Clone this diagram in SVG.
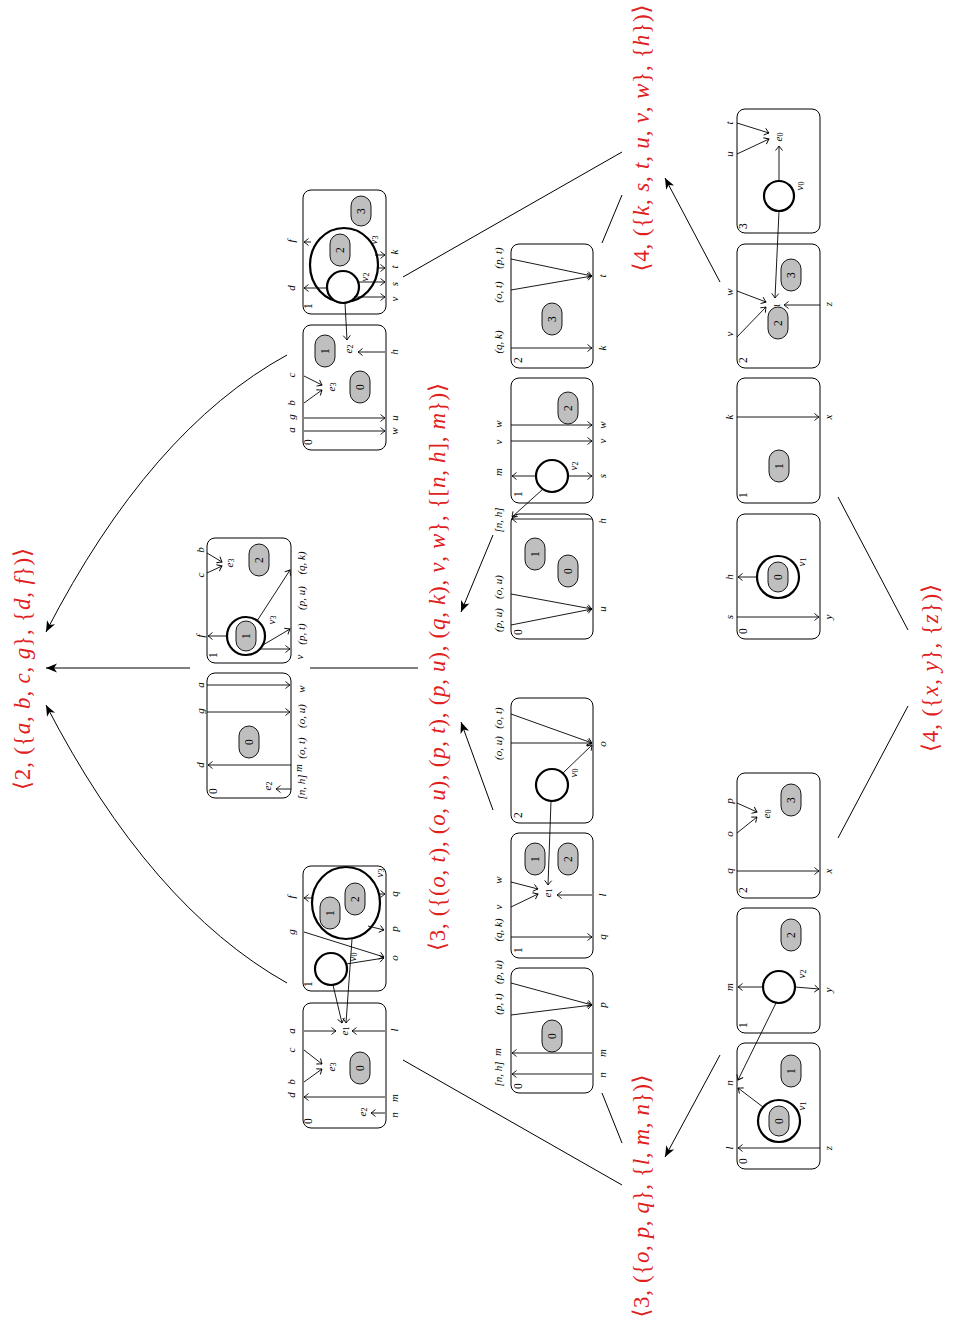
<svg xmlns="http://www.w3.org/2000/svg" width="953" height="1326" viewBox="0 0 953 1326">
<style>
.p{fill:#fff;stroke:#000;stroke-width:1}
.pl{fill:#bfbfbf;stroke:#000;stroke-width:0.9}
.c{fill:#fff;stroke:#000;stroke-width:2.2}
.c2{fill:none;stroke:#000;stroke-width:2.2}
.a{stroke:#000;stroke-width:0.9;fill:none;marker-end:url(#oa)}
.m{stroke:#000;stroke-width:1;fill:none}
.ma{stroke:#000;stroke-width:1;fill:none;marker-end:url(#fa)}
text{font-family:"Liberation Serif","DejaVu Serif",serif;text-anchor:middle;dominant-baseline:central}
.i{font-style:italic;font-size:11px}
.n{font-size:11.5px}
.sub{font-style:normal;font-size:8px}
.r{font-size:23px;fill:#e0201c}
.ri{font-style:italic}
</style>
<defs>
<marker id="oa" viewBox="-6 -5 7 10" refX="0" refY="0" markerWidth="7" markerHeight="10" markerUnits="userSpaceOnUse" orient="auto"><path d="M-4.5,-3.5 Q-1.5,-1 0,0 Q-1.5,1 -4.5,3.5" fill="none" stroke="#000" stroke-width="0.9"/></marker>
<marker id="fa" viewBox="-12 -6 13 12" refX="0" refY="0" markerWidth="13" markerHeight="12" markerUnits="userSpaceOnUse" orient="auto"><path d="M-11,-4.5 L0,0 L-11,4.5 L-8,0 z" fill="#000"/></marker>
</defs>

<!-- red labels -->
<g id="labels">
<text class="r" textLength="242" lengthAdjust="spacing" transform="translate(22 669) rotate(-90)">⟨2, ({<tspan class="ri">a</tspan>, <tspan class="ri">b</tspan>, <tspan class="ri">c</tspan>, <tspan class="ri">g</tspan>}, {<tspan class="ri">d</tspan>, <tspan class="ri">f</tspan>})⟩</text>
<text class="r" textLength="568" lengthAdjust="spacing" transform="translate(437 667) rotate(-90)">⟨3, ({(<tspan class="ri">o</tspan>, <tspan class="ri">t</tspan>), (<tspan class="ri">o</tspan>, <tspan class="ri">u</tspan>), (<tspan class="ri">p</tspan>, <tspan class="ri">t</tspan>), (<tspan class="ri">p</tspan>, <tspan class="ri">u</tspan>), (<tspan class="ri">q</tspan>, <tspan class="ri">k</tspan>), <tspan class="ri">v</tspan>, <tspan class="ri">w</tspan>}, {[<tspan class="ri">n</tspan>, <tspan class="ri">h</tspan>], <tspan class="ri">m</tspan>})⟩</text>
<text class="r" textLength="243" lengthAdjust="spacing" transform="translate(641 1196) rotate(-90)">⟨3, ({<tspan class="ri">o</tspan>, <tspan class="ri">p</tspan>, <tspan class="ri">q</tspan>}, {<tspan class="ri">l</tspan>, <tspan class="ri">m</tspan>, <tspan class="ri">n</tspan>})⟩</text>
<text class="r" textLength="267" lengthAdjust="spacing" transform="translate(641 138) rotate(-90)">⟨4, ({<tspan class="ri">k</tspan>, <tspan class="ri">s</tspan>, <tspan class="ri">t</tspan>, <tspan class="ri">u</tspan>, <tspan class="ri">v</tspan>, <tspan class="ri">w</tspan>}, {<tspan class="ri">h</tspan>})⟩</text>
<text class="r" textLength="168" lengthAdjust="spacing" transform="translate(930 668) rotate(-90)">⟨4, ({<tspan class="ri">x</tspan>, <tspan class="ri">y</tspan>}, {<tspan class="ri">z</tspan>})⟩</text>
</g>

<!-- A3 -->
<g id="A3">
<rect class="p" x="737" y="109" width="83" height="124" rx="8"/>
<text class="n" transform="translate(743 226) rotate(-90)">3</text>
<line class="a" x1="737" y1="123" x2="769" y2="133"/>
<line class="a" x1="737" y1="154" x2="769" y2="139"/>
<text class="i" transform="translate(729 123) rotate(-90)">t</text>
<text class="i" transform="translate(729 154) rotate(-90)">u</text>
<text class="i" transform="translate(778 137) rotate(-90)">e<tspan class="sub" dy="2">0</tspan></text>
<circle class="c" cx="779" cy="196" r="15"/>
<line class="a" x1="779" y1="181" x2="779" y2="146"/>
<text class="i" transform="translate(799 186) rotate(-90)">v<tspan class="sub" dy="2">0</tspan></text>
</g>

<!-- A2 -->
<g id="A2">
<rect class="p" x="737" y="244" width="83" height="124" rx="8"/>
<text class="n" transform="translate(743 360) rotate(-90)">2</text>
<line class="a" x1="737" y1="291" x2="766" y2="302"/>
<line class="a" x1="737" y1="337" x2="766" y2="307"/>
<text class="i" transform="translate(729 292) rotate(-90)">w</text>
<text class="i" transform="translate(729 334) rotate(-90)">v</text>
<text class="i" transform="translate(775 308) rotate(-90)">e<tspan class="sub" dy="2">1</tspan></text>
<rect class="pl" x="768" y="307" width="20" height="32" rx="10"/>
<text class="n" transform="translate(778 323) rotate(-90)">2</text>
<rect class="pl" x="781" y="259" width="20" height="32" rx="10"/>
<text class="n" transform="translate(791 275) rotate(-90)">3</text>
<line class="a" x1="820" y1="305" x2="784" y2="305"/>
<text class="i" transform="translate(828 304) rotate(-90)">z</text>
</g>

<!-- A1 -->
<g id="A1">
<rect class="p" x="737" y="378" width="83" height="125" rx="8"/>
<text class="n" transform="translate(743 495) rotate(-90)">1</text>
<line class="a" x1="737" y1="417" x2="819" y2="417"/>
<text class="i" transform="translate(729 417) rotate(-90)">k</text>
<text class="i" transform="translate(828 417) rotate(-90)">x</text>
<rect class="pl" x="769" y="450" width="20" height="32" rx="10"/>
<text class="n" transform="translate(779 466) rotate(-90)">1</text>
</g>

<!-- A0 -->
<g id="A0">
<rect class="p" x="737" y="514" width="83" height="125" rx="8"/>
<text class="n" transform="translate(743 631) rotate(-90)">0</text>
<circle class="c" cx="778" cy="577" r="21"/>
<rect class="pl" x="768" y="562" width="20" height="30" rx="10"/>
<text class="n" transform="translate(778 577) rotate(-90)">0</text>
<line class="a" x1="757" y1="577" x2="738" y2="577"/>
<text class="i" transform="translate(729 577) rotate(-90)">h</text>
<text class="i" transform="translate(801 562) rotate(-90)">v<tspan class="sub" dy="2">1</tspan></text>
<line class="a" x1="737" y1="617" x2="819" y2="617"/>
<text class="i" transform="translate(729 617) rotate(-90)">s</text>
<text class="i" transform="translate(828 617) rotate(-90)">y</text>
</g>

<!-- B2 -->
<g id="B2">
<rect class="p" x="737" y="773" width="83" height="125" rx="8"/>
<text class="n" transform="translate(743 890) rotate(-90)">2</text>
<line class="a" x1="737" y1="803" x2="757" y2="812"/>
<line class="a" x1="737" y1="833" x2="757" y2="817"/>
<text class="i" transform="translate(729 801) rotate(-90)">p</text>
<text class="i" transform="translate(729 834) rotate(-90)">o</text>
<text class="i" transform="translate(729 871) rotate(-90)">q</text>
<text class="i" transform="translate(766 814) rotate(-90)">e<tspan class="sub" dy="2">0</tspan></text>
<rect class="pl" x="781" y="784" width="20" height="32" rx="10"/>
<text class="n" transform="translate(791 800) rotate(-90)">3</text>
<line class="a" x1="737" y1="871" x2="819" y2="871"/>
<text class="i" transform="translate(828 871) rotate(-90)">x</text>
</g>

<!-- B1 -->
<g id="B1">
<rect class="p" x="737" y="908" width="83" height="125" rx="8"/>
<text class="n" transform="translate(743 1025) rotate(-90)">1</text>
<rect class="pl" x="781" y="919" width="20" height="32" rx="10"/>
<text class="n" transform="translate(791 935) rotate(-90)">2</text>
<circle class="c" cx="779" cy="987" r="16"/>
<text class="i" transform="translate(801 974) rotate(-90)">v<tspan class="sub" dy="2">2</tspan></text>
<line class="a" x1="763" y1="987" x2="738" y2="987"/>
<text class="i" transform="translate(729 987) rotate(-90)">m</text>
<line class="a" x1="795" y1="987" x2="819" y2="989"/>
<text class="i" transform="translate(828 990) rotate(-90)">y</text>
</g>

<!-- B0 -->
<g id="B0">
<rect class="p" x="737" y="1043" width="83" height="126" rx="8"/>
<text class="n" transform="translate(743 1161) rotate(-90)">0</text>
<circle class="c" cx="779" cy="1121" r="21"/>
<rect class="pl" x="769" y="1106" width="20" height="30" rx="10"/>
<text class="n" transform="translate(779 1121) rotate(-90)">0</text>
<text class="i" transform="translate(801 1106) rotate(-90)">v<tspan class="sub" dy="2">1</tspan></text>
<line class="a" x1="763" y1="1107" x2="738" y2="1088"/>
<text class="i" transform="translate(729 1083) rotate(-90)">n</text>
<rect class="pl" x="781" y="1055" width="20" height="32" rx="10"/>
<text class="n" transform="translate(791 1071) rotate(-90)">1</text>
<line class="a" x1="820" y1="1148" x2="738" y2="1148"/>
<text class="i" transform="translate(729 1148) rotate(-90)">l</text>
<text class="i" transform="translate(828 1148) rotate(-90)">z</text>
</g>

<!-- C2 -->
<g id="C2">
<rect class="p" x="511" y="244" width="82" height="124" rx="8"/>
<text class="n" transform="translate(518 360) rotate(-90)">2</text>
<line class="a" x1="511" y1="348" x2="592" y2="348"/>
<text class="i" transform="translate(498 342) rotate(-90)">(q, k)</text>
<text class="i" transform="translate(602 348) rotate(-90)">k</text>
<line class="a" x1="511" y1="290" x2="592" y2="276"/>
<line class="a" x1="511" y1="259" x2="592" y2="276"/>
<text class="i" transform="translate(498 292) rotate(-90)">(o, t)</text>
<text class="i" transform="translate(498 258) rotate(-90)">(p, t)</text>
<text class="i" transform="translate(602 276) rotate(-90)">t</text>
<rect class="pl" x="542" y="303" width="20" height="32" rx="10"/>
<text class="n" transform="translate(552 319) rotate(-90)">3</text>
</g>

<!-- C1 -->
<g id="C1">
<rect class="p" x="511" y="378" width="82" height="125" rx="8"/>
<text class="n" transform="translate(518 494) rotate(-90)">1</text>
<circle class="c" cx="552" cy="476" r="16"/>
<text class="i" transform="translate(573 466) rotate(-90)">v<tspan class="sub" dy="2">2</tspan></text>
<line class="a" x1="536" y1="476" x2="512" y2="476"/>
<line class="a" x1="568" y1="476" x2="592" y2="476"/>
<text class="i" transform="translate(498 472) rotate(-90)">m</text>
<text class="i" transform="translate(602 476) rotate(-90)">s</text>
<line class="a" x1="511" y1="441" x2="592" y2="441"/>
<line class="a" x1="511" y1="425" x2="592" y2="425"/>
<text class="i" transform="translate(498 442) rotate(-90)">v</text>
<text class="i" transform="translate(498 424) rotate(-90)">w</text>
<text class="i" transform="translate(602 441) rotate(-90)">v</text>
<text class="i" transform="translate(602 425) rotate(-90)">w</text>
<rect class="pl" x="558" y="392" width="20" height="32" rx="10"/>
<text class="n" transform="translate(568 408) rotate(-90)">2</text>
</g>

<!-- C0 -->
<g id="C0">
<rect class="p" x="511" y="514" width="82" height="125" rx="8"/>
<text class="n" transform="translate(518 632) rotate(-90)">0</text>
<line class="a" x1="592" y1="519" x2="512" y2="519"/>
<text class="i" transform="translate(498 520) rotate(-90)">[n, h]</text>
<text class="i" transform="translate(602 521) rotate(-90)">h</text>
<line class="a" x1="511" y1="625" x2="592" y2="609"/>
<line class="a" x1="511" y1="594" x2="592" y2="609"/>
<text class="i" transform="translate(498 620) rotate(-90)">(p, u)</text>
<text class="i" transform="translate(498 587) rotate(-90)">(o, u)</text>
<text class="i" transform="translate(602 609) rotate(-90)">u</text>
<rect class="pl" x="525" y="538" width="20" height="32" rx="10"/>
<text class="n" transform="translate(535 554) rotate(-90)">1</text>
<rect class="pl" x="558" y="555" width="20" height="32" rx="10"/>
<text class="n" transform="translate(568 571) rotate(-90)">0</text>
</g>

<!-- D2 -->
<g id="D2">
<rect class="p" x="511" y="698" width="82" height="125" rx="8"/>
<text class="n" transform="translate(518 815) rotate(-90)">2</text>
<line class="a" x1="511" y1="714" x2="592" y2="743"/>
<line class="a" x1="511" y1="743" x2="592" y2="743"/>
<text class="i" transform="translate(498 718) rotate(-90)">(o, t)</text>
<text class="i" transform="translate(498 748) rotate(-90)">(o, u)</text>
<circle class="c" cx="552" cy="785" r="16"/>
<text class="i" transform="translate(573 773) rotate(-90)">v<tspan class="sub" dy="2">0</tspan></text>
<line class="a" x1="563" y1="773" x2="592" y2="745"/>
<text class="i" transform="translate(602 744) rotate(-90)">o</text>
</g>

<!-- D1 -->
<g id="D1">
<rect class="p" x="511" y="833" width="82" height="125" rx="8"/>
<text class="n" transform="translate(518 950) rotate(-90)">1</text>
<line class="a" x1="511" y1="937" x2="592" y2="937"/>
<text class="i" transform="translate(498 930) rotate(-90)">(q, k)</text>
<text class="i" transform="translate(602 937) rotate(-90)">q</text>
<line class="a" x1="511" y1="907" x2="538" y2="894"/>
<line class="a" x1="511" y1="882" x2="538" y2="889"/>
<text class="i" transform="translate(498 907) rotate(-90)">v</text>
<text class="i" transform="translate(498 880) rotate(-90)">w</text>
<text class="i" transform="translate(547 893) rotate(-90)">e<tspan class="sub" dy="2">1</tspan></text>
<line class="a" x1="592" y1="895" x2="557" y2="895"/>
<text class="i" transform="translate(602 895) rotate(-90)">l</text>
<rect class="pl" x="525" y="843" width="20" height="32" rx="10"/>
<text class="n" transform="translate(535 859) rotate(-90)">1</text>
<rect class="pl" x="558" y="843" width="20" height="32" rx="10"/>
<text class="n" transform="translate(568 859) rotate(-90)">2</text>
</g>

<!-- D0 -->
<g id="D0">
<rect class="p" x="511" y="968" width="82" height="125" rx="8"/>
<text class="n" transform="translate(518 1086) rotate(-90)">0</text>
<line class="a" x1="511" y1="983" x2="592" y2="1005"/>
<line class="a" x1="511" y1="1015" x2="592" y2="1005"/>
<text class="i" transform="translate(498 972) rotate(-90)">(p, u)</text>
<text class="i" transform="translate(498 1004) rotate(-90)">(p, t)</text>
<text class="i" transform="translate(602 1005) rotate(-90)">p</text>
<line class="a" x1="592" y1="1053" x2="512" y2="1053"/>
<line class="a" x1="592" y1="1074" x2="512" y2="1074"/>
<text class="i" transform="translate(497 1052) rotate(-90)">m</text>
<text class="i" transform="translate(498 1074) rotate(-90)">[n, h]</text>
<text class="i" transform="translate(602 1053) rotate(-90)">m</text>
<text class="i" transform="translate(602 1075) rotate(-90)">n</text>
<rect class="pl" x="542" y="1020" width="20" height="32" rx="10"/>
<text class="n" transform="translate(552 1036) rotate(-90)">0</text>
</g>

<!-- E1 -->
<g id="E1">
<rect class="p" x="207" y="538" width="84" height="125" rx="8"/>
<text class="n" transform="translate(213 655) rotate(-90)">1</text>
<line class="a" x1="207" y1="553" x2="222" y2="562"/>
<line class="a" x1="207" y1="573" x2="222" y2="566"/>
<text class="i" transform="translate(200 550) rotate(-90)">b</text>
<text class="i" transform="translate(200 575) rotate(-90)">c</text>
<text class="i" transform="translate(229 563) rotate(-90)">e<tspan class="sub" dy="2">3</tspan></text>
<rect class="pl" x="249" y="544" width="20" height="32" rx="10"/>
<text class="n" transform="translate(259 560) rotate(-90)">2</text>
<circle class="c" cx="246" cy="636" r="19"/>
<rect class="pl" x="236" y="621" width="20" height="30" rx="10"/>
<text class="n" transform="translate(246 636) rotate(-90)">1</text>
<text class="i" transform="translate(271 620) rotate(-90)">v<tspan class="sub" dy="2">3</tspan></text>
<line class="a" x1="227" y1="636" x2="208" y2="636"/>
<text class="i" transform="translate(200 636) rotate(-90)">f</text>
<line class="a" x1="257" y1="621" x2="290" y2="570"/>
<line class="a" x1="263" y1="645" x2="290" y2="629"/>
<line class="a" x1="260" y1="649" x2="290" y2="649"/>
<text class="i" transform="translate(301 563) rotate(-90)">(q, k)</text>
<text class="i" transform="translate(301 598) rotate(-90)">(p, u)</text>
<text class="i" transform="translate(301 634) rotate(-90)">(p, t)</text>
<text class="i" transform="translate(299 657) rotate(-90)">v</text>
</g>

<!-- E0 -->
<g id="E0">
<rect class="p" x="207" y="673" width="84" height="125" rx="8"/>
<text class="n" transform="translate(213 791) rotate(-90)">0</text>
<line class="a" x1="207" y1="685" x2="290" y2="685"/>
<line class="a" x1="207" y1="712" x2="290" y2="712"/>
<line class="a" x1="291" y1="765" x2="208" y2="765"/>
<text class="i" transform="translate(200 685) rotate(-90)">a</text>
<text class="i" transform="translate(200 711) rotate(-90)">g</text>
<text class="i" transform="translate(200 765) rotate(-90)">d</text>
<rect class="pl" x="239" y="726" width="20" height="32" rx="10"/>
<text class="n" transform="translate(249 742) rotate(-90)">0</text>
<line class="a" x1="291" y1="789" x2="276" y2="789"/>
<text class="i" transform="translate(267 786) rotate(-90)">e<tspan class="sub" dy="2">2</tspan></text>
<text class="i" transform="translate(301 689) rotate(-90)">w</text>
<text class="i" transform="translate(301 716) rotate(-90)">(o, u)</text>
<text class="i" transform="translate(301 748) rotate(-90)">(o, t)</text>
<text class="i" transform="translate(298 768) rotate(-90)">m</text>
<text class="i" transform="translate(301 787) rotate(-90)">[n, h]</text>
</g>

<!-- F1 -->
<g id="F1">
<rect class="p" x="303" y="190" width="83" height="124" rx="8"/>
<text class="n" transform="translate(308 306) rotate(-90)">1</text>
<rect class="pl" x="351" y="196" width="20" height="30" rx="10"/>
<text class="n" transform="translate(361 211) rotate(-90)">3</text>
<ellipse class="c2" cx="344" cy="265" rx="34" ry="37"/>
<rect class="pl" x="330" y="234" width="20" height="32" rx="10"/>
<text class="n" transform="translate(340 250) rotate(-90)">2</text>
<circle class="c" cx="343" cy="287" r="16"/>
<text class="i" transform="translate(364 277) rotate(-90)">v<tspan class="sub" dy="2">2</tspan></text>
<text class="i" transform="translate(373 240) rotate(-90)">v<tspan class="sub" dy="2">3</tspan></text>
<line class="a" x1="327" y1="288" x2="304" y2="288"/>
<line class="a" x1="311" y1="242" x2="304" y2="242"/>
<text class="i" transform="translate(291 288) rotate(-90)">d</text>
<text class="i" transform="translate(291 241) rotate(-90)">f</text>
<line class="a" x1="375" y1="255" x2="385" y2="255"/>
<line class="a" x1="377" y1="268" x2="385" y2="268"/>
<line class="a" x1="357" y1="282" x2="385" y2="282"/>
<line class="a" x1="354" y1="297" x2="385" y2="297"/>
<text class="i" transform="translate(394 252) rotate(-90)">k</text>
<text class="i" transform="translate(394 267) rotate(-90)">t</text>
<text class="i" transform="translate(394 284) rotate(-90)">s</text>
<text class="i" transform="translate(394 299) rotate(-90)">v</text>
</g>

<!-- F0 -->
<g id="F0">
<rect class="p" x="303" y="325" width="83" height="125" rx="8"/>
<text class="n" transform="translate(308 442) rotate(-90)">0</text>
<rect class="pl" x="315" y="335" width="20" height="32" rx="10"/>
<text class="n" transform="translate(325 351) rotate(-90)">1</text>
<text class="i" transform="translate(348 349) rotate(-90)">e<tspan class="sub" dy="2">2</tspan></text>
<line class="a" x1="385" y1="352" x2="358" y2="352"/>
<text class="i" transform="translate(394 352) rotate(-90)">h</text>
<line class="a" x1="304" y1="376" x2="322" y2="385"/>
<line class="a" x1="304" y1="403" x2="322" y2="390"/>
<text class="i" transform="translate(331 387) rotate(-90)">e<tspan class="sub" dy="2">3</tspan></text>
<text class="i" transform="translate(291 375) rotate(-90)">c</text>
<text class="i" transform="translate(291 403) rotate(-90)">b</text>
<text class="i" transform="translate(291 417) rotate(-90)">g</text>
<text class="i" transform="translate(291 430) rotate(-90)">a</text>
<rect class="pl" x="350" y="371" width="20" height="32" rx="10"/>
<text class="n" transform="translate(360 387) rotate(-90)">0</text>
<line class="a" x1="304" y1="418" x2="385" y2="418"/>
<line class="a" x1="304" y1="431" x2="385" y2="431"/>
<text class="i" transform="translate(394 418) rotate(-90)">u</text>
<text class="i" transform="translate(394 431) rotate(-90)">w</text>
</g>

<!-- G1 -->
<g id="G1">
<rect class="p" x="303" y="866" width="83" height="125" rx="8"/>
<text class="n" transform="translate(308 984) rotate(-90)">1</text>
<ellipse class="c2" cx="346" cy="903" rx="34" ry="36"/>
<rect class="pl" x="320" y="897" width="20" height="32" rx="10"/>
<text class="n" transform="translate(330 913) rotate(-90)">1</text>
<rect class="pl" x="345" y="883" width="20" height="32" rx="10"/>
<text class="n" transform="translate(355 899) rotate(-90)">2</text>
<text class="i" transform="translate(379 873) rotate(-90)">v<tspan class="sub" dy="2">3</tspan></text>
<line class="a" x1="312" y1="898" x2="304" y2="898"/>
<text class="i" transform="translate(291 897) rotate(-90)">f</text>
<circle class="c" cx="331" cy="969" r="16"/>
<text class="i" transform="translate(352 957) rotate(-90)">v<tspan class="sub" dy="2">0</tspan></text>
<line class="a" x1="304" y1="932" x2="384" y2="957"/>
<text class="i" transform="translate(291 932) rotate(-90)">g</text>
<line class="a" x1="346" y1="964" x2="384" y2="958"/>
<line class="a" x1="368" y1="926" x2="384" y2="930"/>
<line class="a" x1="378" y1="894" x2="385" y2="894"/>
<text class="i" transform="translate(394 958) rotate(-90)">o</text>
<text class="i" transform="translate(394 929) rotate(-90)">p</text>
<text class="i" transform="translate(394 894) rotate(-90)">q</text>
</g>

<!-- G0 -->
<g id="G0">
<rect class="p" x="303" y="1003" width="83" height="125" rx="8"/>
<text class="n" transform="translate(308 1121) rotate(-90)">0</text>
<text class="i" transform="translate(344 1031) rotate(-90)">e<tspan class="sub" dy="2">1</tspan></text>
<line class="a" x1="304" y1="1031" x2="336" y2="1031"/>
<line class="a" x1="385" y1="1031" x2="352" y2="1031"/>
<text class="i" transform="translate(291 1031) rotate(-90)">a</text>
<text class="i" transform="translate(394 1030) rotate(-90)">l</text>
<line class="a" x1="304" y1="1050" x2="322" y2="1064"/>
<line class="a" x1="304" y1="1082" x2="322" y2="1069"/>
<text class="i" transform="translate(331 1067) rotate(-90)">e<tspan class="sub" dy="2">3</tspan></text>
<text class="i" transform="translate(291 1050) rotate(-90)">c</text>
<text class="i" transform="translate(291 1082) rotate(-90)">b</text>
<text class="i" transform="translate(291 1095) rotate(-90)">d</text>
<line class="a" x1="385" y1="1097" x2="304" y2="1097"/>
<text class="i" transform="translate(394 1098) rotate(-90)">m</text>
<rect class="pl" x="350" y="1052" width="20" height="32" rx="10"/>
<text class="n" transform="translate(360 1068) rotate(-90)">0</text>
<line class="a" x1="385" y1="1113" x2="371" y2="1113"/>
<text class="i" transform="translate(362 1112) rotate(-90)">e<tspan class="sub" dy="2">2</tspan></text>
<text class="i" transform="translate(394 1115) rotate(-90)">n</text>
</g>

<!-- connectors -->
<g id="connectors">
<line class="a" x1="779" y1="211" x2="775" y2="298"/>
<line class="a" x1="776" y1="1003" x2="738" y2="1080"/>
<line class="a" x1="543" y1="489" x2="512" y2="517"/>
<line class="a" x1="551" y1="801" x2="548" y2="885"/>
<line class="a" x1="345" y1="303" x2="347" y2="340"/>
<line class="a" x1="333" y1="985" x2="342" y2="1023"/>
<line class="a" x1="352" y1="939" x2="346" y2="1023"/>
<line class="m" x1="418" y1="668" x2="310" y2="668"/>
<line class="ma" x1="190" y1="668" x2="46" y2="668"/>
<path class="ma" d="M287,355 Q150,430 46,632"/>
<path class="ma" d="M287,983 Q150,906 46,705"/>
<line class="m" x1="622" y1="152" x2="403" y2="277"/>
<line class="m" x1="622" y1="195" x2="602" y2="243"/>
<line class="ma" x1="720" y1="282" x2="665" y2="178"/>
<line class="ma" x1="493" y1="535" x2="461" y2="612"/>
<line class="ma" x1="493" y1="810" x2="461" y2="722"/>
<line class="m" x1="622" y1="1185" x2="403" y2="1060"/>
<line class="m" x1="622" y1="1143" x2="602" y2="1093"/>
<line class="ma" x1="720" y1="1055" x2="665" y2="1157"/>
<line class="m" x1="908" y1="630" x2="838" y2="497"/>
<line class="m" x1="908" y1="706" x2="838" y2="838"/>
</g>
</svg>
